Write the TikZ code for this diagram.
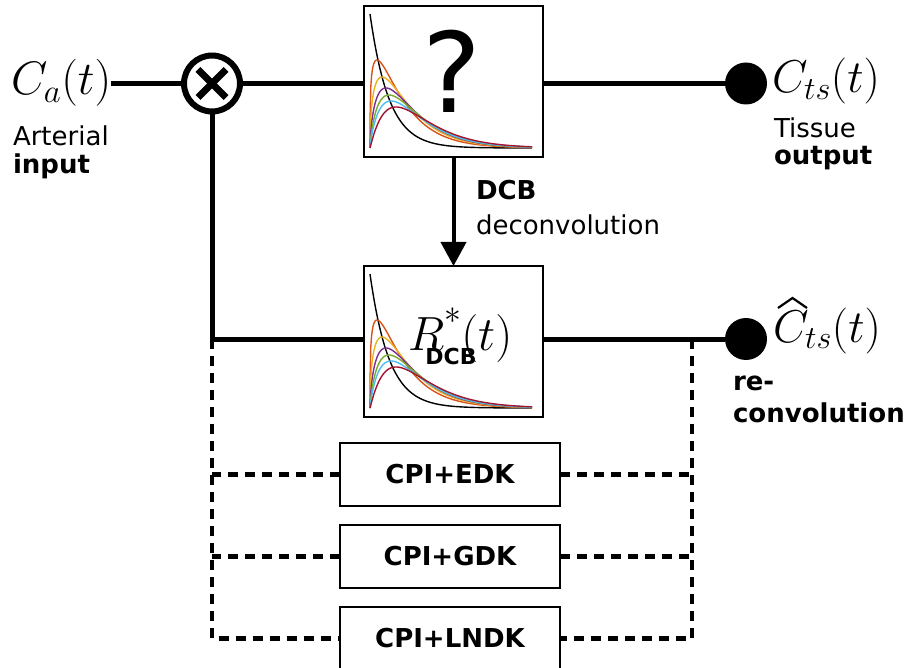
\documentclass[tikz,border=0pt]{standalone}
\usepackage{fix-cm}
\usepackage{fontspec}
\setmainfont{DejaVu Sans}
\usetikzlibrary{arrows.meta}
\definecolor{cOr}{HTML}{D95319}
\definecolor{cYe}{HTML}{EDB120}
\definecolor{cPu}{HTML}{7E2F8E}
\definecolor{cGr}{HTML}{77AC30}
\definecolor{cCy}{HTML}{4DBEEE}
\definecolor{cRe}{HTML}{A2142F}
\newcommand\drawcurves{%
  \draw[curve,black] plot[domain=0:162,samples=200] ({370+\x},{148-134*exp(-\x/19)});
  \foreach \A/\tp/\c in {88/7/cOr,71/12/cYe,60/16/cPu,53/19/cGr,47/21/cCy,41/26/cRe}{
    \pgfmathsetmacro\al{\tp/25}
    \draw[curve,\c] (370,148) -- plot[domain=0.05:162,samples=220] ({370+\x},{148-\A*pow(\x/\tp,\al)*exp(-(\x-\tp)/25)});
  }%
}
\begin{document}
\begin{tikzpicture}[x=1pt,y=-1pt,
  every node/.style={inner sep=0pt,outer sep=0pt},
  txt/.style={font=\fontsize{26}{30}\selectfont,anchor=base west},
  btxt/.style={font=\fontsize{26}{30}\selectfont\bfseries,anchor=base west},
  mth/.style={font=\fontsize{46}{50}\selectfont},
  wire/.style={line width=5pt},
  dwire/.style={line width=4.5pt,dash pattern=on 10pt off 7pt},
  fbox/.style={draw,line width=1.5pt,minimum width=179pt,minimum height=151pt},
  mbox/.style={draw,fill=white,line width=1.2pt,minimum width=220pt,minimum height=63pt,font=\fontsize{26}{30}\selectfont\bfseries},
  dot/.style={circle,fill=black,minimum size=42pt},
  curve/.style={line width=1.4pt}
]
\clip (0,0) rectangle (910,668);
\fill[white] (0,0) rectangle (910,668);

% top box with curves
\drawcurves
\node[fbox] (top) at (453.5,81.5) {};
\node[font=\fontsize{111}{120}\selectfont,anchor=base] (q) at (452,113) {?};

% lower box with curves
\begin{scope}[shift={(0,260)}]
\drawcurves
\end{scope}
\node[fbox] (low) at (453.5,341.5) {};
\node[font=\fontsize{48}{52}\selectfont,anchor=base west] (r) at (408,350) {$R^{\raisebox{9pt}{$\scriptstyle *$}}(t)$};
\node[font=\fontsize{22}{24}\selectfont\bfseries,anchor=base] (rsub) at (451,364) {DCB};

% input side
\node[font=\fontsize{47}{50}\selectfont,anchor=base west] (ca) at (11,95) {$C_a(t)$};
\node[txt] (art) at (13,146) {Arterial};
\node[btxt] (inp) at (13,174) {input};
\node[circle,draw,line width=6pt,minimum size=56pt] (mult) at (212,83.5) {};
\draw[line width=7pt] ([shift={(-14,-14)}]mult.center) -- ([shift={(14,14)}]mult.center);
\draw[line width=7pt] ([shift={(-14,14)}]mult.center) -- ([shift={(14,-14)}]mult.center);

% output side
\node[dot] (ts) at (746,83.5) {};
\node[mth,anchor=base west] (cts) at (772,93) {$C_{ts}(t)$};
\node[txt] (tis) at (774,138) {Tissue};
\node[btxt] (out) at (774,165) {output};

\node[dot] (hat) at (746,339) {};
\node[mth,anchor=base west] (chat) at (773,342) {$C_{ts}(t)$};
\draw[line width=2.2pt,line join=miter] ([shift={(5,-34)}]chat.base west) -- ([shift={(19.5,-44)}]chat.base west) -- ([shift={(34,-34)}]chat.base west);
\node[btxt] (re) at (733,390) {re-};
\node[btxt] (conv) at (733,422) {convolution};

% deconvolution labels
\node[btxt] (dcb) at (476,200) {DCB};
\node[txt] (dec) at (476,235) {deconvolution};

% main wires
\draw[wire] (ca.east |- mult.west) -- (mult.west);
\draw[wire] (mult.east) -- (mult.east -| top.west);
\draw[wire] (top.east |- ts.west) -- (ts.west);
\draw[line width=4pt,-{Triangle[width=25pt,length=24pt]}] (top.south) -- (low.north);

\coordinate (jl) at (212,339);
\coordinate (jr) at (692,339);
\coordinate (bl) at (212,638.5);
\coordinate (br) at (692,638.5);

% method boxes
\node[mbox] (edk) at (450,474.5) {CPI+EDK};
\node[mbox] (gdk) at (450,556.5) {CPI+GDK};
\node[mbox] (lndk) at (450,638.5) {CPI+LNDK};

% dashed alternatives
\draw[dwire] (jl) -- (bl) -- (lndk.west);
\draw[dwire] (jr) -- (br) -- (lndk.east);
\draw[dwire] (edk.west) -- (edk.west -| jl);
\draw[dwire] (edk.east) -- (edk.east -| jr);
\draw[dwire] (gdk.west) -- (gdk.west -| jl);
\draw[dwire] (gdk.east) -- (gdk.east -| jr);

% lower wires
\draw[wire] (mult.south) -- (jl) -- (jl -| low.west);
\draw[wire] (low.east |- hat.west) -- (hat.west);
\end{tikzpicture}
\end{document}
